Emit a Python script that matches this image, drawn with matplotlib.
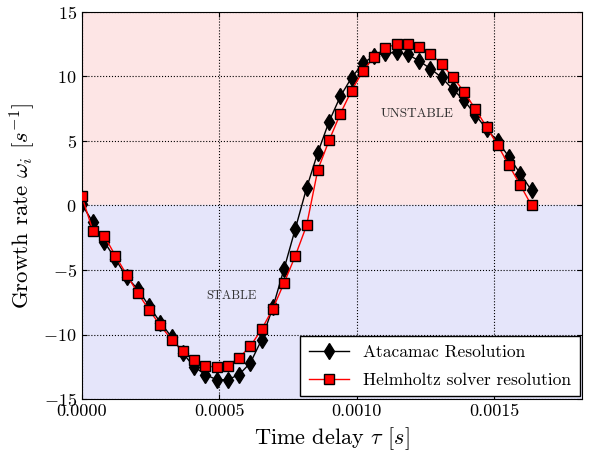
import matplotlib
matplotlib.use("Agg")
import matplotlib.pyplot as plt
from matplotlib.ticker import FormatStrFormatter

plt.rcParams['font.family'] = 'serif'
plt.rcParams['font.serif'] = ['cmr10', 'DejaVu Serif']
plt.rcParams['mathtext.fontset'] = 'cm'
plt.rcParams['axes.formatter.use_mathtext'] = True

# Time delay values (s), shared by both series
tau = [0.0, 4.09e-5, 8.18e-5, 1.227e-4, 1.636e-4, 2.045e-4, 2.454e-4, 2.863e-4,
       3.272e-4, 3.681e-4, 4.09e-4, 4.499e-4, 4.908e-4, 5.317e-4, 5.726e-4,
       6.135e-4, 6.544e-4, 6.953e-4, 7.362e-4, 7.771e-4, 8.18e-4, 8.589e-4,
       8.998e-4, 9.407e-4, 9.816e-4, 1.0225e-3, 1.0634e-3, 1.1043e-3, 1.1452e-3,
       1.1861e-3, 1.227e-3, 1.2679e-3, 1.3088e-3, 1.3497e-3, 1.3906e-3,
       1.4315e-3, 1.4724e-3, 1.5133e-3, 1.5542e-3, 1.5951e-3, 1.636e-3]

# growth rates
atacamac = [0.1, -1.3, -2.8, -4.15, -5.55, -6.5, -7.8, -9.07, -10.2, -11.45,
            -12.5, -13.1, -13.5, -13.5, -13.1, -12.2, -10.4, -7.9, -4.9, -1.8,
            1.35, 4.1, 6.5, 8.45, 9.9, 11.0, 11.6, 11.8, 11.85, 11.7,
            11.2, 10.6, 9.92, 9.0, 8.14, 7.03, 5.92, 4.96, 3.75, 2.46, 1.16]
helmholtz = [0.75, -1.96, -2.35, -3.9, -5.37, -6.8, -8.1, -9.3, -10.4, -11.3,
             -12.0, -12.4, -12.55, -12.4, -11.8, -10.9, -9.6, -8.0, -6.0, -3.9,
             -1.55, 2.77, 5.04, 7.1, 8.9, 10.4, 11.5, 12.2, 12.5, 12.5,
             12.3, 11.75, 10.96, 9.95, 8.8, 7.47, 6.08, 4.65, 3.1, 1.58, 0.0]

fig = plt.figure(figsize=(5.94, 4.54), dpi=100)
ax = fig.add_axes([0.1375, 0.121, 0.8425, 0.853])

xmax = 0.00182
ax.axhspan(0, 15, color='#fde5e5', zorder=0)
ax.axhspan(-15, 0, color='#e5e5fa', zorder=0)

ax.plot(tau, atacamac, 'k-', marker='d', markersize=8, lw=1,
        label='Atacamac Resolution', zorder=3)
ax.plot(tau, helmholtz, 'r-', marker='s', markersize=7, lw=1,
        markerfacecolor='red', markeredgecolor='black', markeredgewidth=1,
        label='Helmholtz solver resolution', zorder=4)

ax.text(5.43e-4, -7.0, 'STABLE', fontsize=9, ha='center', va='center', color='#333333')
ax.text(1.22e-3, 7.1, 'UNSTABLE', fontsize=9.5, ha='center', va='center', color='#333333')

ax.set_xlim(0, xmax)
ax.set_ylim(-15, 15)
ax.set_xticks([0, 0.0005, 0.001, 0.0015])
ax.set_yticks([-15, -10, -5, 0, 5, 10, 15])
ax.xaxis.set_major_formatter(FormatStrFormatter('%.4f'))
ax.grid(True, color='black', linestyle=':', linewidth=0.8)
ax.set_axisbelow(False)
ax.tick_params(direction='in', top=True, right=True, labelsize=13)

ax.set_xlabel(r'Time delay $\tau$ $[s]$', fontsize=16)
ax.set_ylabel(r'Growth rate $\omega_i$ $[s^{-1}]$', fontsize=16.5)

leg = ax.legend(loc='lower right', fontsize=12.5, fancybox=False, borderaxespad=0.15,
                framealpha=1, edgecolor='black', numpoints=1, labelspacing=0.7,
                handlelength=2.3, borderpad=0.5)
leg.get_frame().set_linewidth(1)

fig.savefig('out.png', dpi=100)
